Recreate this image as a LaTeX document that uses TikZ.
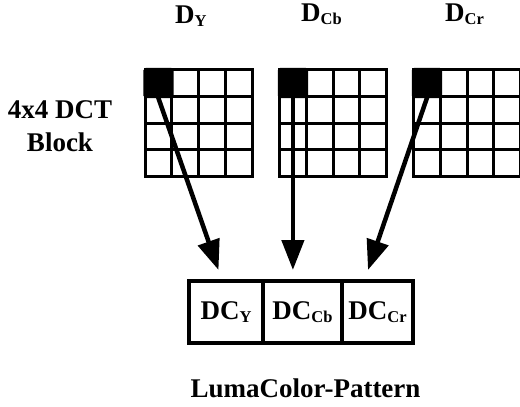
\documentclass[tikz,border=0pt]{standalone}
\usepackage{fontspec}
\setmainfont{Liberation Serif}
\usetikzlibrary{arrows.meta}
\newcommand\subx[1]{\raisebox{-3pt}{\fontsize{16.5}{16.5}\selectfont #1}}
\begin{document}
\begin{tikzpicture}[x=1pt,y=-1pt,
  lbl/.style={font=\fontsize{27}{32}\selectfont\bfseries, inner sep=0pt},
  gridln/.style={line width=3pt, line cap=rect},
  dcsq/.style={draw, fill=black, line width=3.5pt, minimum width=26.8pt, minimum height=26.8pt, inner sep=0pt, rounded corners=1.5pt},
  cell/.style={draw, line width=4pt, minimum height=62pt, inner sep=0pt, font=\fontsize{27}{32}\selectfont\bfseries},
  arr/.style={line width=4.5pt, -{Triangle[length=30pt,width=22pt]}, shorten <=-4pt}]
\useasboundingbox (0,0) rectangle (520,407);
% three 4x4 DCT blocks with their DC coefficient
\foreach \gx/\nm in {145/bY,279.5/bCb,413.5/bCr}{
  \foreach \i in {0,...,4}{
    \draw[gridln] (\gx+\i*26.8,69.5) -- (\gx+\i*26.8,176.7);
    \draw[gridln] (\gx,69.5+\i*26.8) -- (\gx+107.2,69.5+\i*26.8);
  }
  \node[dcsq] (\nm) at (\gx+13.4,82.9) {};
}
% labels
\node[lbl, anchor=base west] (dY) at (175,23.5) {D\subx{Y}};
\node[lbl, anchor=base west] (dCb) at (301,21.5) {D\subx{Cb}};
\node[lbl, anchor=base west] (dCr) at (445,21) {D\subx{Cr}};
\node[lbl, anchor=base] (blkA) at (60,118) {4x4 DCT};
\node[lbl, anchor=base] (blkB) at (60,151) {Block};
% pattern cells
\node[cell, minimum width=74pt] (cY) at (226,312) {DC\subx{Y}};
\node[cell, minimum width=79pt] (cCb) at (302.5,312) {DC\subx{Cb}};
\node[cell, minimum width=71pt] (cCr) at (377.5,312) {DC\subx{Cr}};
\node[lbl, anchor=base] (lcp) at (305.5,397) {LumaColor-Pattern};
% arrows
\coordinate (tY) at (218.5,270);
\coordinate (tCb) at (292.9,270);
\coordinate (tCr) at (368,270);
\draw[arr] (bY.south) -- (tY);
\draw[arr] (bCb.south) -- (tCb);
\draw[arr] (bCr.south) -- (tCr);
\end{tikzpicture}
\end{document}
